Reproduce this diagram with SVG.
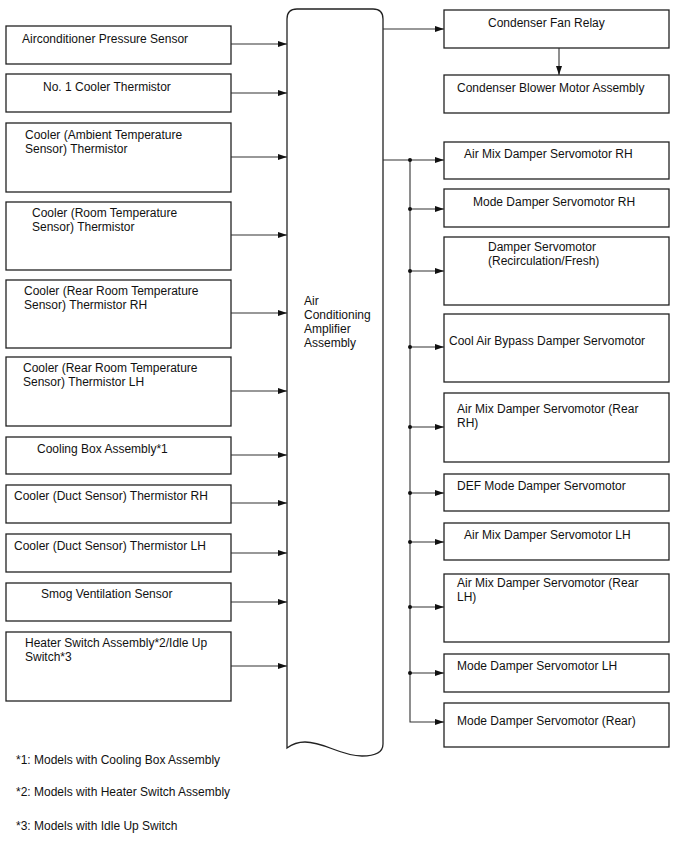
<svg xmlns="http://www.w3.org/2000/svg" width="688" height="852" viewBox="0 0 688 852">
<defs>
<marker id="ah" markerWidth="10" markerHeight="8" refX="9" refY="4" orient="auto" markerUnits="userSpaceOnUse">
<path d="M0,1 L9,4 L0,7 Z" fill="#111"/>
</marker>
<style>
rect.b{fill:#fff;stroke:#222;stroke-width:1.3}
text{font-family:"Liberation Sans",Arial,sans-serif;font-size:12px;fill:#111}
.c line,.c path{stroke:#333;stroke-width:1.1;fill:none}
.c .a{marker-end:url(#ah)}
.c circle{fill:#111}
</style>
</defs>
<rect width="688" height="852" fill="#fff"/>

<g id="center">
<path d="M287,19 Q287,9 297,9 L373,9 Q383,9 383,19 L383,744 C383,752 376,756 362,756 C340,756 325,742 305,742 C297,742 291,745 287,748 Z" fill="#fff" stroke="#222" stroke-width="1.3"/>
<text x="304" y="305">Air</text>
<text x="304" y="319">Conditioning</text>
<text x="304" y="333">Amplifier</text>
<text x="304" y="347">Assembly</text>
</g>

<g id="in1"><rect class="b" x="6" y="26" width="225" height="38"/><text x="22" y="43">Airconditioner Pressure Sensor</text></g>
<g id="in2"><rect class="b" x="6" y="74" width="225" height="38"/><text x="43" y="91">No. 1 Cooler Thermistor</text></g>
<g id="in3"><rect class="b" x="6" y="123" width="225" height="69"/><text x="25" y="139">Cooler (Ambient Temperature</text><text x="25" y="153">Sensor) Thermistor</text></g>
<g id="in4"><rect class="b" x="6" y="202" width="225" height="68"/><text x="32" y="217">Cooler (Room Temperature</text><text x="32" y="231">Sensor) Thermistor</text></g>
<g id="in5"><rect class="b" x="6" y="280" width="225" height="68"/><text x="24" y="295">Cooler (Rear Room Temperature</text><text x="24" y="309">Sensor) Thermistor RH</text></g>
<g id="in6"><rect class="b" x="6" y="357" width="225" height="69"/><text x="23" y="372">Cooler (Rear Room Temperature</text><text x="23" y="386">Sensor) Thermistor LH</text></g>
<g id="in7"><rect class="b" x="6" y="437" width="225" height="37"/><text x="37" y="453">Cooling Box Assembly*1</text></g>
<g id="in8"><rect class="b" x="6" y="485" width="225" height="38"/><text x="14" y="500">Cooler (Duct Sensor) Thermistor RH</text></g>
<g id="in9"><rect class="b" x="6" y="534" width="225" height="38"/><text x="14" y="550">Cooler (Duct Sensor) Thermistor LH</text></g>
<g id="in10"><rect class="b" x="6" y="583" width="225" height="38"/><text x="41" y="598">Smog Ventilation Sensor</text></g>
<g id="in11"><rect class="b" x="6" y="632" width="225" height="69"/><text x="25" y="647">Heater Switch Assembly*2/Idle Up</text><text x="25" y="661">Switch*3</text></g>

<g id="out1"><rect class="b" x="444" y="10" width="225" height="38"/><text x="488" y="27">Condenser Fan Relay</text></g>
<g id="out2"><rect class="b" x="444" y="75" width="225" height="38"/><text x="457" y="92">Condenser Blower Motor Assembly</text></g>
<g id="out3"><rect class="b" x="444" y="142" width="225" height="37"/><text x="464" y="158">Air Mix Damper Servomotor RH</text></g>
<g id="out4"><rect class="b" x="444" y="189" width="225" height="38"/><text x="473" y="206">Mode Damper Servomotor RH</text></g>
<g id="out5"><rect class="b" x="444" y="237" width="225" height="68"/><text x="488" y="251">Damper Servomotor</text><text x="488" y="265">(Recirculation/Fresh)</text></g>
<g id="out6"><rect class="b" x="444" y="314" width="225" height="68"/><text x="449" y="345">Cool Air Bypass Damper Servomotor</text></g>
<g id="out7"><rect class="b" x="444" y="393" width="225" height="69"/><text x="457" y="413">Air Mix Damper Servomotor (Rear</text><text x="457" y="427">RH)</text></g>
<g id="out8"><rect class="b" x="444" y="474" width="225" height="37"/><text x="457" y="490">DEF Mode Damper Servomotor</text></g>
<g id="out9"><rect class="b" x="444" y="523" width="225" height="37"/><text x="464" y="539">Air Mix Damper Servomotor LH</text></g>
<g id="out10"><rect class="b" x="444" y="574" width="225" height="68"/><text x="457" y="587">Air Mix Damper Servomotor (Rear</text><text x="457" y="601">LH)</text></g>
<g id="out11"><rect class="b" x="444" y="654" width="225" height="38"/><text x="457" y="670">Mode Damper Servomotor LH</text></g>
<g id="out12"><rect class="b" x="444" y="703" width="225" height="44"/><text x="457" y="725">Mode Damper Servomotor (Rear)</text></g>

<g id="connectors" class="c">
<line class="a" x1="231" y1="44" x2="287" y2="44"/>
<line class="a" x1="231" y1="93" x2="287" y2="93"/>
<line class="a" x1="231" y1="157" x2="287" y2="157"/>
<line class="a" x1="231" y1="235" x2="287" y2="235"/>
<line class="a" x1="231" y1="313" x2="287" y2="313"/>
<line class="a" x1="231" y1="391" x2="287" y2="391"/>
<line class="a" x1="231" y1="455" x2="287" y2="455"/>
<line class="a" x1="231" y1="503" x2="287" y2="503"/>
<line class="a" x1="231" y1="553" x2="287" y2="553"/>
<line class="a" x1="231" y1="602" x2="287" y2="602"/>
<line class="a" x1="231" y1="666" x2="287" y2="666"/>
<line class="a" x1="383" y1="29" x2="444" y2="29"/>
<line class="a" x1="559" y1="48" x2="559" y2="75"/>
<line class="a" x1="383" y1="160" x2="444" y2="160"/>
<path class="a" d="M410,160 L410,722 L444,722"/>
<line class="a" x1="410" y1="209" x2="444" y2="209"/>
<line class="a" x1="410" y1="271" x2="444" y2="271"/>
<line class="a" x1="410" y1="347" x2="444" y2="347"/>
<line class="a" x1="410" y1="427" x2="444" y2="427"/>
<line class="a" x1="410" y1="493" x2="444" y2="493"/>
<line class="a" x1="410" y1="542" x2="444" y2="542"/>
<line class="a" x1="410" y1="607" x2="444" y2="607"/>
<line class="a" x1="410" y1="673" x2="444" y2="673"/>
<circle cx="410" cy="160" r="2"/>
<circle cx="410" cy="209" r="2"/>
<circle cx="410" cy="271" r="2"/>
<circle cx="410" cy="347" r="2"/>
<circle cx="410" cy="427" r="2"/>
<circle cx="410" cy="493" r="2"/>
<circle cx="410" cy="542" r="2"/>
<circle cx="410" cy="607" r="2"/>
<circle cx="410" cy="673" r="2"/>
</g>

<g id="notes">
<text x="16" y="764">*1: Models with Cooling Box Assembly</text>
<text x="16" y="796">*2: Models with Heater Switch Assembly</text>
<text x="16" y="830">*3: Models with Idle Up Switch</text>
</g>
</svg>
